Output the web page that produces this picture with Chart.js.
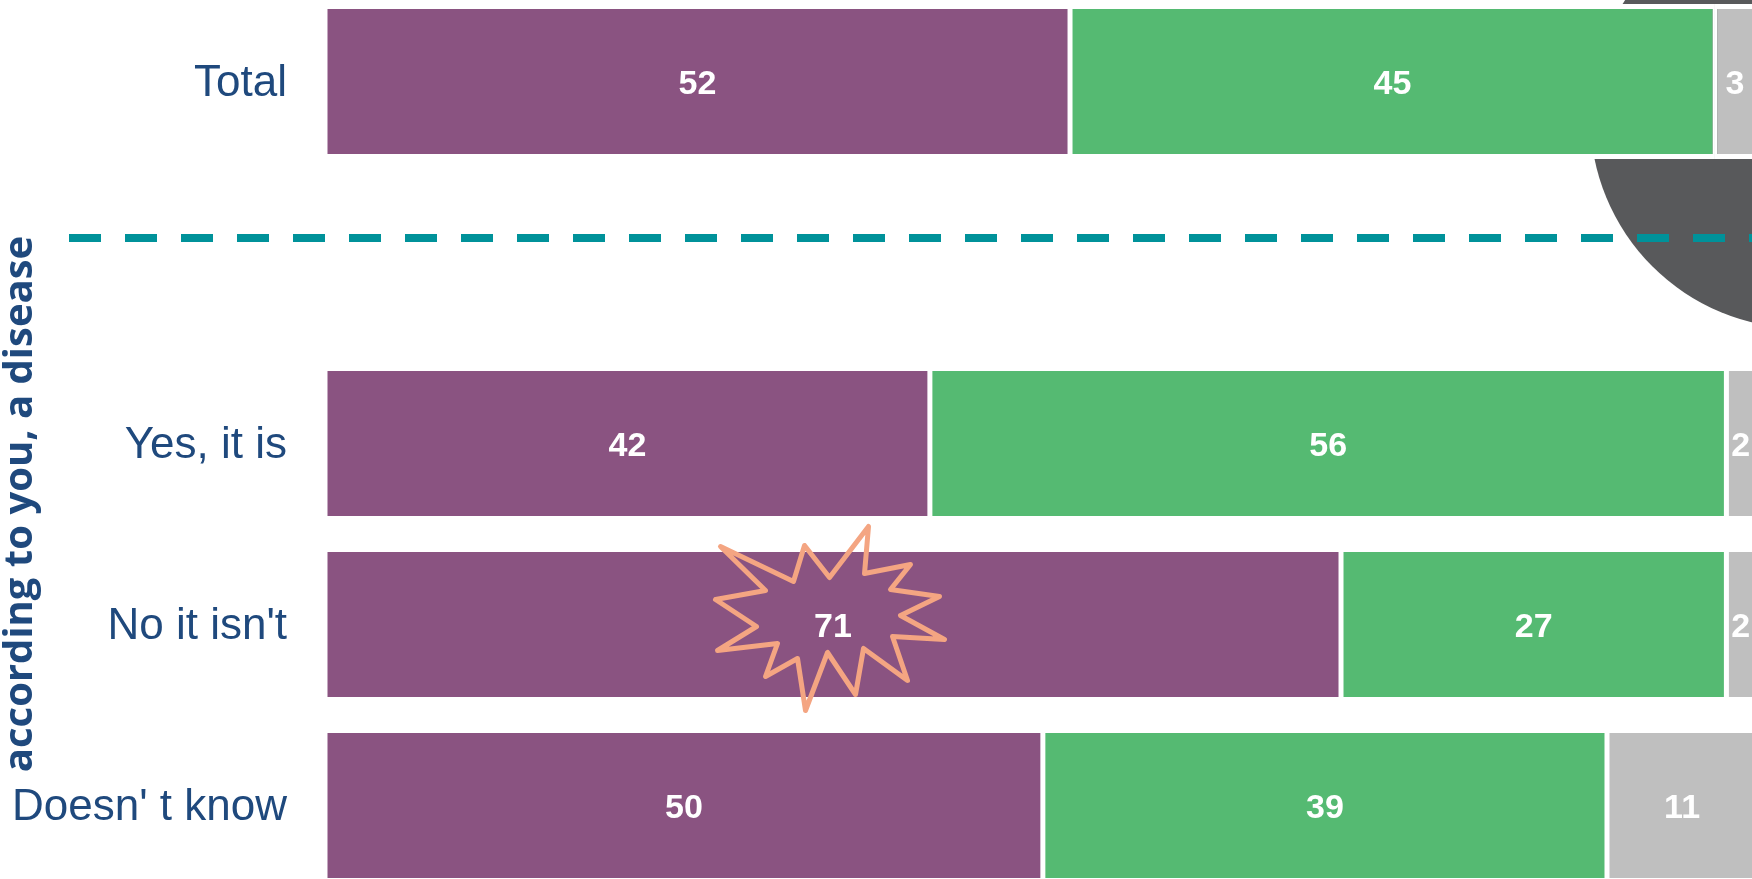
<!DOCTYPE html>
<html>
<head>
<meta charset="utf-8">
<title>Chart</title>
<script src="https://cdn.jsdelivr.net/npm/chart.js@4/dist/chart.umd.js"></script>
<style>
	html, body { margin: 0; padding: 0; width: 1752px; height: 879px; overflow: hidden; background: #fff; }
	#wrap { position: absolute; left: 0; top: -40px; width: 1800px; height: 1000px; }
</style>
</head>
<body>
<div id="wrap"><canvas id="chart" width="1800" height="1000"></canvas></div>
<script>
const categories = ['Total', '', 'Yes, it is', 'No it isn\'t', 'Doesn\' t know'];
const purpleValues = [52.1, null, 42.3, 71.05, 50.2];
const greenValues = [45.1, null, 55.7, 26.95, 39.45];
const greyValues = [2.8, null, 2, 2, 10.5];
const sideTitle = 'according to you, a disease';

// burst outline around the 71 label, offsets from the label centre
const burst = [
	[-110, -80], [-37, -45], [-26, -81], [-1, -49], [38, -100], [34, -53],
	[80, -62], [60, -37], [109, -30], [70, -11], [114, 13], [62, 10],
	[77, 54], [33, 22], [25, 68], [-3, 26], [-25, 84], [-33, 32],
	[-65, 50], [-53, 17], [-113, 24], [-74, 0], [-115, -27], [-65, -36],
];

const purple = '#8a5381';
const green = '#55ba72';
const grey = '#bfbfbf';
const navy = '#1f497d';

const drawings = {
	id: 'drawings',
	beforeDatasetsDraw(chart) {
		const { ctx, scales: { x, y } } = chart;
		const rowY = (v) => y.getPixelForValue(0) + v * (y.getPixelForValue(1) - y.getPixelForValue(0));
		ctx.save();

		ctx.fillStyle = '#58595b';
		ctx.beginPath();
		ctx.arc(x.getPixelForValue(103.3), rowY(0.193), 212, 0, Math.PI * 2);
		ctx.fill();

		ctx.strokeStyle = '#00929a';
		ctx.lineWidth = 8;
		ctx.setLineDash([32, 24]);
		ctx.beginPath();
		ctx.moveTo(69, rowY(0.865));
		ctx.lineTo(chart.width, rowY(0.865));
		ctx.stroke();
		ctx.restore();

		ctx.save();
		ctx.translate(32, rowY(2.334));
		ctx.rotate(-Math.PI / 2);
		ctx.fillStyle = navy;
		ctx.font = 'bold 40px "Open Sans"';
		ctx.textAlign = 'center';
		ctx.textBaseline = 'alphabetic';
		ctx.fillText(sideTitle, 0, 0);
		ctx.restore();
	},
	afterDatasetsDraw(chart) {
		const { ctx } = chart;
		ctx.save();
		ctx.fillStyle = '#fff';
		ctx.font = 'bold 34px "Liberation Sans"';
		ctx.textAlign = 'center';
		ctx.textBaseline = 'middle';
		chart.data.datasets.forEach((ds, i) => {
			chart.getDatasetMeta(i).data.forEach((bar, j) => {
				if (ds.data[j] === null) return;
				const c = bar.getCenterPoint();
				ctx.fillText(Math.round(ds.data[j]), c.x, c.y + 3);
			});
		});

		const c = chart.getDatasetMeta(0).data[3].getCenterPoint();
		ctx.strokeStyle = '#f4a582';
		ctx.lineWidth = 5;
		ctx.lineJoin = 'round';
		ctx.beginPath();
		burst.forEach(([dx, dy], i) => {
			if (i === 0) ctx.moveTo(c.x - 2.5 + dx, c.y + 2 + dy);
			else ctx.lineTo(c.x - 2.5 + dx, c.y + 2 + dy);
		});
		ctx.closePath();
		ctx.stroke();
		ctx.restore();
	},
};

function barSet(label, data, color) {
	return {
		label,
		data,
		backgroundColor: color,
		borderColor: '#fff',
		borderWidth: { top: 5, bottom: 5, left: 2.5, right: 2.5 },
		borderSkipped: false,
		inflateAmount: 0,
		barThickness: 155,
	};
}

new Chart(document.getElementById('chart'), {
	type: 'bar',
	data: {
		labels: categories,
		datasets: [
			barSet('Purple', purpleValues, purple),
			barSet('Green', greenValues, green),
			barSet('Grey', greyValues, grey),
		],
	},
	options: {
		indexAxis: 'y',
		responsive: false,
		animation: false,
		layout: { padding: { top: 31, bottom: 64, left: 0, right: 45 } },
		plugins: { legend: { display: false }, tooltip: { enabled: false } },
		scales: {
			x: { display: false, stacked: true, min: 0, max: 100 },
			y: {
				stacked: true,
				grid: { display: false, drawTicks: true, tickLength: 38, tickColor: 'rgba(0,0,0,0)' },
				border: { display: false },
				ticks: {
					autoSkip: false,
					padding: 0,
					labelOffset: 2,
					color: navy,
					font: { family: '"Liberation Sans"', size: 44 },
				},
				afterFit(scale) {
					scale.width = 325;
				},
			},
		},
	},
	plugins: [drawings],
});
</script>
</body>
</html>
